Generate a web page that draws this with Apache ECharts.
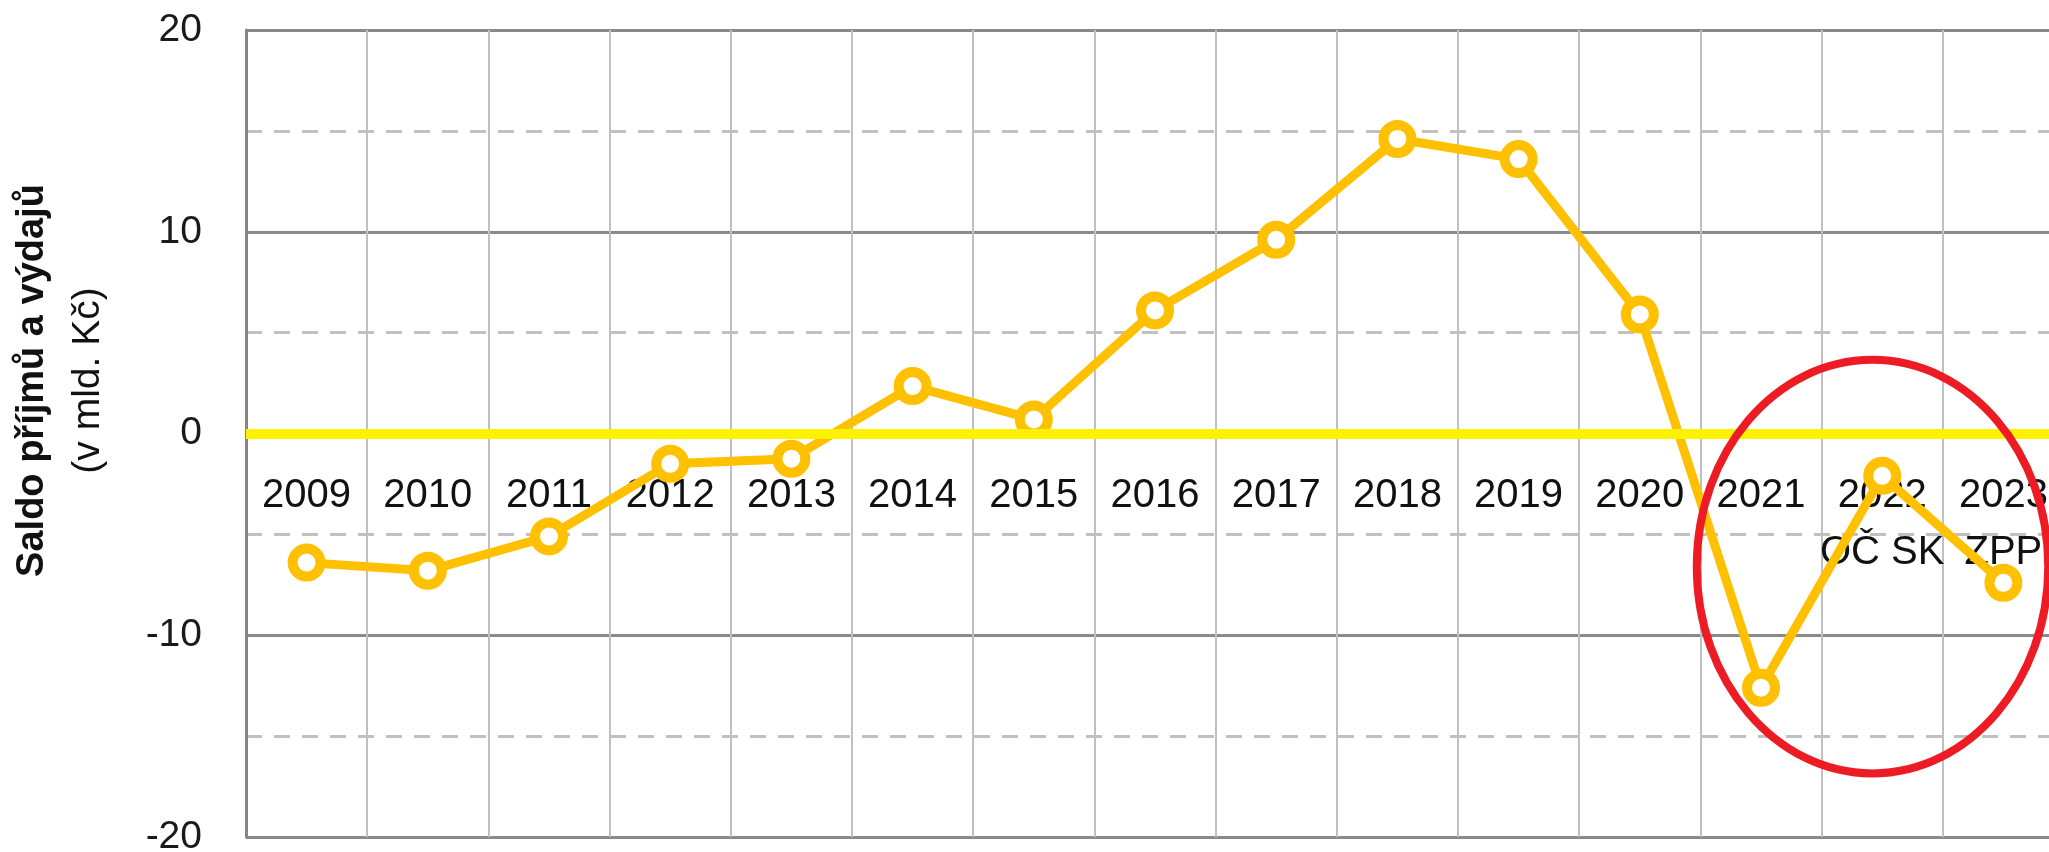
<!DOCTYPE html>
<html>
<head>
<meta charset="utf-8">
<title>Saldo příjmů a výdajů</title>
<script src="https://cdn.jsdelivr.net/npm/echarts@6/dist/echarts.min.js"></script>
<style>
html, body { margin: 0; padding: 0; background: #fff; }
#myChart { width: 2049px; height: 852px; }
</style>
</head>
<body>
<div id="myChart"></div>
<script>
// roky a saldo (mld. Kč)
var years = ['2009', '2010', '2011', '2012', '2013', '2014', '2015', '2016', '2017', '2018', '2019', '2020', '2021', '2022', '2023'];
var saldo = [-6.4, -6.8, -5.1, -1.5, -1.25, 2.35, 0.7, 6.1, 9.6, 14.6, 13.6, 5.9, -12.6, -2.1, -7.4];
var notes = ['', '', '', '', '', '', '', '', '', '', '', '', '', 'OČ SK', 'ZPP'];
var yTicks = { min: -20, max: 20, interval: 10 };

// red ellipse round the last three years (category index / value units)
var ellipseMark = { cat: 12.92, val: -6.6, halfCats: 1.45, halfVal: 10.25 };

var font = 'Liberation Sans';
var zeroColor = '#fff200';
var gridTop = 30, gridHeight = 807;
var categories = years.map(function (y, i) {
	return notes[i] ? y + '\n' + notes[i] : y;
});

// labels sit just under the zero line, so pull them up from the bottom edge
var zeroFromBottom = gridHeight * (0 - yTicks.min) / (yTicks.max - yTicks.min);

var myChart = echarts.init(document.getElementById('myChart'));
var option = {
	animation: false,
	backgroundColor: '#fff',
	grid: {
		left: 246,
		top: gridTop,
		width: 1818,
		height: gridHeight,
		containLabel: false,
		outerBoundsMode: 'none'
	},
	xAxis: {
		type: 'category',
		data: categories,
		boundaryGap: true,
		axisLine: { show: false, onZero: false },
		axisTick: { show: false },
		axisLabel: {
			interval: 0,
			margin: 34 - zeroFromBottom,
			fontFamily: font,
			fontSize: 40,
			lineHeight: 57,
			color: '#111'
		},
		splitLine: {
			show: true,
			interval: 0,
			lineStyle: { color: '#c0c0c0', width: 2 }
		}
	},
	yAxis: {
		type: 'value',
		min: yTicks.min,
		max: yTicks.max,
		interval: yTicks.interval,
		name: '{b|Saldo příjmů a výdajů}\n{n|(v mld. Kč)}',
		nameLocation: 'middle',
		nameRotate: 90,
		nameGap: 126,
		nameTextStyle: {
			padding: [0, 0, 0, 106],
			rich: {
				b: { fontFamily: font, fontWeight: 'bold', fontSize: 38, lineHeight: 47, color: '#111' },
				n: { fontFamily: font, fontSize: 39, lineHeight: 64, color: '#111' }
			}
		},
		axisLine: { show: true, lineStyle: { color: '#858585', width: 3 } },
		axisTick: { show: false },
		axisLabel: {
			margin: 44,
			fontFamily: font,
			fontSize: 39,
			color: '#1a1a1a'
		},
		splitLine: {
			show: true,
			lineStyle: { color: '#8a8a8a', width: 3 }
		},
		minorTick: { show: false, splitNumber: 2 },
		minorSplitLine: {
			show: true,
			lineStyle: { color: '#c0c0c0', width: 3, type: [16, 12] }
		}
	},
	series: [{
		name: 'saldo',
		type: 'line',
		data: saldo,
		symbol: 'circle',
		symbolSize: 28,
		lineStyle: { color: '#ffc000', width: 9 },
		itemStyle: { color: '#fff', borderColor: '#ffc000', borderWidth: 10 },
		emphasis: { disabled: true },
		markLine: {
			silent: true,
			symbol: ['none', 'none'],
			label: { show: false },
			lineStyle: { color: zeroColor, width: 10, type: 'solid' },
			data: [{ yAxis: 0 }]
		}
	}]
};
myChart.setOption(option);

// ellipse placed from the axis scales
var pA = myChart.convertToPixel({ gridIndex: 0 }, [13, ellipseMark.val]);
var pB = myChart.convertToPixel({ gridIndex: 0 }, [14, ellipseMark.val + ellipseMark.halfVal]);
var step = pB[0] - pA[0];
myChart.setOption({
	graphic: [{
		type: 'ellipse',
		silent: true,
		z: 100,
		shape: {
			cx: pA[0] + (ellipseMark.cat - 13) * step,
			cy: pA[1],
			rx: ellipseMark.halfCats * step,
			ry: Math.abs(pA[1] - pB[1])
		},
		style: { fill: 'none', stroke: '#ed1c24', lineWidth: 8 }
	}]
});
</script>
</body>
</html>
